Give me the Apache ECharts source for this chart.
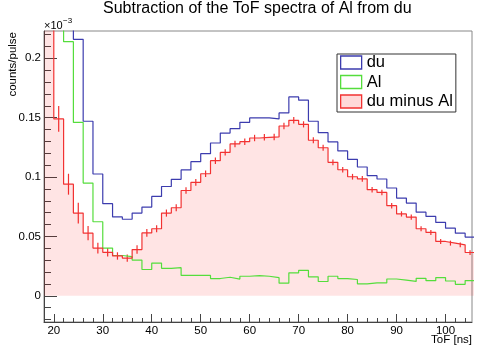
<!DOCTYPE html>
<html>
<head>
<meta charset="utf-8">
<script src="https://cdn.jsdelivr.net/npm/echarts@6/dist/echarts.min.js"></script>
<style>
  html, body { margin: 0; padding: 0; background: #fff; }
  #chart { width: 500px; height: 353px; }
</style>
</head>
<body>
<div id="chart"></div>
<script>
// ToF bin edges [ns], 2 ns bins
const binEdges = [18, 20, 22, 24, 26, 28, 30, 32, 34, 36, 38, 40, 42, 44, 46, 48, 50, 52, 54, 56, 58, 60,
  62, 64, 66, 68, 70, 72, 74, 76, 78, 80, 82, 84, 86, 88, 90, 92, 94, 96, 98, 100, 102, 104, 106];

// counts/pulse (x 10^-3), one value per bin
const du = [0.75, 0.449, 0.308, 0.216, 0.147, 0.1026, 0.0776, 0.0665, 0.0645, 0.0697, 0.0748, 0.0837,
  0.0921, 0.0981, 0.106, 0.113, 0.1197, 0.1287, 0.1371, 0.1408, 0.1461, 0.1498, 0.1498, 0.149, 0.154,
  0.1675, 0.1648, 0.147, 0.1374, 0.1296, 0.122, 0.115, 0.1085, 0.1012, 0.0984, 0.0908, 0.0823, 0.0781,
  0.0705, 0.0669, 0.0618, 0.057, 0.0528, 0.0495];
const al = [0.45, 0.30, 0.214, 0.146, 0.095, 0.0624, 0.0402, 0.034, 0.0331, 0.0301, 0.0222, 0.0276,
  0.0232, 0.0237, 0.0172, 0.0172, 0.0172, 0.0146, 0.0157, 0.0141, 0.0165, 0.0171, 0.0165, 0.0153, 0.0107,
  0.0194, 0.0215, 0.016, 0.0121, 0.0165, 0.0146, 0.0138, 0.0101, 0.0109, 0.0109, 0.0142, 0.0132, 0.0122,
  0.0148, 0.0128, 0.0154, 0.0125, 0.0097, 0.0129];
const duMinusAl = [0.30, 0.149, 0.094, 0.0697, 0.0528, 0.0402, 0.0367, 0.0336, 0.0318, 0.039, 0.053,
  0.0565, 0.0697, 0.0742, 0.0887, 0.0956, 0.1028, 0.1138, 0.1208, 0.1279, 0.1298, 0.1329, 0.1335, 0.1338,
  0.143, 0.1478, 0.1444, 0.131, 0.1247, 0.1124, 0.1062, 0.1003, 0.0985, 0.0894, 0.0871, 0.0759, 0.069,
  0.0663, 0.0565, 0.0534, 0.0458, 0.0444, 0.043, 0.0365];
const duMinusAlErr = [0.012, 0.0108, 0.0088, 0.0087, 0.006, 0.0045, 0.0036, 0.0031, 0.0031, 0.0036,
  0.0032, 0.003, 0.003, 0.003, 0.0028, 0.0028, 0.0028, 0.0028, 0.0027, 0.0027, 0.0027, 0.0027, 0.0027,
  0.0027, 0.0027, 0.0027, 0.0026, 0.0026, 0.0025, 0.0025, 0.0024, 0.0024, 0.0024, 0.0023, 0.0023, 0.0023,
  0.0022, 0.0022, 0.0022, 0.0021, 0.0021, 0.0021, 0.002, 0.002];

const xTickLabels = [20, 30, 40, 50, 60, 70, 80, 90, 100];
const xMinorTicks = [18, 20, 22, 24, 26, 28, 30, 32, 34, 36, 38, 40, 42, 44, 46, 48, 50, 52, 54, 56, 58,
  60, 62, 64, 66, 68, 70, 72, 74, 76, 78, 80, 82, 84, 86, 88, 90, 92, 94, 96, 98, 100, 102, 104];
const yTickLabels = [0, 0.05, 0.1, 0.15, 0.2];
const yMinorTicks = [-0.02, -0.01, 0, 0.01, 0.02, 0.03, 0.04, 0.05, 0.06, 0.07, 0.08, 0.09, 0.1, 0.11,
  0.12, 0.13, 0.14, 0.15, 0.16, 0.17, 0.18, 0.19, 0.2, 0.21, 0.22];

const FONT = 'Liberation Sans';
const BLUE = '#3c3cae';
const GREEN = '#55dd3c';
const RED = '#f23232';

// histogram outline: one point per low edge + closing point at last edge
const toSteps = vals => {
  const pts = vals.map((v, i) => [binEdges[i], v]);
  pts.push([binEdges[vals.length], vals[vals.length - 1]]);
  return pts;
};

const errData = duMinusAl.map((v, i) => [(binEdges[i] + binEdges[i + 1]) / 2, v, duMinusAlErr[i]]);

const chart = echarts.init(document.getElementById('chart'));

const option = {
  animation: false,
  title: {
    text: 'Subtraction of the ToF spectra of Al from du',
    left: 103,
    top: 1,
    padding: 0,
    textStyle: { fontFamily: FONT, fontSize: 16, fontWeight: 'normal', color: '#000' }
  },
  legend: {
    orient: 'vertical',
    left: 337,
    top: 54,
    padding: [0, 3, 2, 3],
    itemGap: 2.5,
    itemWidth: 21,
    itemHeight: 13,
    selectedMode: false,
    backgroundColor: '#fff',
    borderColor: '#333',
    borderWidth: 1,
    textStyle: { fontFamily: FONT, fontSize: 16.5, color: '#000', lineHeight: 16 },
    data: [
      { name: 'du', icon: 'rect', itemStyle: { color: 'rgba(0,0,0,0)', borderColor: BLUE, borderWidth: 1.3 } },
      { name: 'Al', icon: 'rect', itemStyle: { color: 'rgba(0,0,0,0)', borderColor: GREEN, borderWidth: 1.3 } },
      { name: 'du minus Al', icon: 'rect', itemStyle: { color: 'rgba(255,0,0,0.15)', borderColor: RED, borderWidth: 1.3 } }
    ]
  },
  grid: {
    left: 44, right: 28, top: 31, bottom: 31,
    show: true, borderColor: '#888', borderWidth: 1, backgroundColor: 'transparent'
  },
  xAxis: [
    {
      type: 'value', min: 18, max: 105.4, position: 'bottom',
      splitLine: { show: false },
      axisLine: { show: true, onZero: false, lineStyle: { color: '#444', width: 1 } },
      axisTick: { show: true, inside: true, length: 8, customValues: xTickLabels, lineStyle: { color: '#444' } },
      axisLabel: {
        customValues: xTickLabels, margin: 3, fontFamily: FONT, fontSize: 11.5, color: '#000'
      }
    },
    {
      type: 'value', min: 18, max: 105.4, position: 'bottom',
      splitLine: { show: false },
      axisLine: { show: false, onZero: false },
      axisLabel: { show: false },
      axisTick: { show: true, inside: true, length: 4, customValues: xMinorTicks, lineStyle: { color: '#444' } }
    }
  ],
  yAxis: [
    {
      type: 'value', min: -0.022, max: 0.223, position: 'left',
      splitLine: { show: false },
      axisLine: { show: true, onZero: false, lineStyle: { color: '#444', width: 1 } },
      axisTick: { show: true, inside: true, length: 13, customValues: yTickLabels, lineStyle: { color: '#444' } },
      axisLabel: {
        customValues: yTickLabels, margin: 3, fontFamily: FONT, fontSize: 11.5, color: '#000',
        formatter: v => String(+(+v).toFixed(3))
      }
    },
    {
      type: 'value', min: -0.022, max: 0.223, position: 'left',
      splitLine: { show: false },
      axisLine: { show: false, onZero: false },
      axisLabel: { show: false },
      axisTick: { show: true, inside: true, length: 7, customValues: yMinorTicks, lineStyle: { color: '#444' } }
    }
  ],
  graphic: [
    { type: 'text', x: 44, y: 20, style: { text: '×10', fontFamily: FONT, fontSize: 11, fill: '#000' } },
    { type: 'text', x: 63, y: 17, style: { text: '−3', fontFamily: FONT, fontSize: 8, fill: '#000' } },
    {
      type: 'text', x: 13, y: 32, rotation: Math.PI / 2,
      style: { text: 'counts/pulse', fontFamily: FONT, fontSize: 11.5, fill: '#000', align: 'right', verticalAlign: 'middle' }
    },
    { type: 'text', right: 28, top: 334, style: { text: 'ToF [ns]', fontFamily: FONT, fontSize: 11.5, fill: '#000' } }
  ],
  series: [
    {
      name: 'du', type: 'line', step: 'end', data: toSteps(du),
      showSymbol: false, clip: true,
      lineStyle: { color: BLUE, width: 1.2 }, itemStyle: { color: BLUE }
    },
    {
      name: 'Al', type: 'line', step: 'end', data: toSteps(al),
      showSymbol: false, clip: true,
      lineStyle: { color: GREEN, width: 1.2 }, itemStyle: { color: GREEN }
    },
    {
      name: 'du minus Al', type: 'line', step: 'end', data: toSteps(duMinusAl),
      showSymbol: false, clip: true,
      lineStyle: { color: RED, width: 1.2 }, itemStyle: { color: RED },
      areaStyle: { color: 'rgba(255,0,0,0.15)', origin: 0 }
    },
    {
      name: 'errors', type: 'custom', data: errData, clip: true,
      encode: { x: 0, y: 1 },
      renderItem: (params, api) => {
        const x = api.value(0), y = api.value(1), e = api.value(2);
        const p1 = api.coord([x, y - e]);
        const p2 = api.coord([x, y + e]);
        return {
          type: 'line',
          shape: { x1: p1[0], y1: p1[1], x2: p2[0], y2: p2[1] },
          style: { stroke: RED, lineWidth: 1.2 }
        };
      }
    }
  ]
};

chart.setOption(option);
</script>
</body>
</html>
